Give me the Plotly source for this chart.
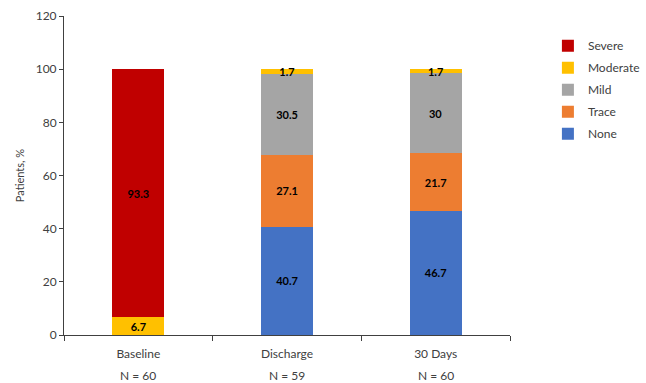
import plotly.graph_objects as go

# Time points and patient counts
timepoints = ["Baseline", "Discharge", "30 Days"]
n_patients = [60, 59, 60]

# Percent of patients per severity grade (stacked bottom to top)
none_pct = [0, 40.7, 46.7]
trace_pct = [0, 27.1, 21.7]
mild_pct = [0, 30.5, 30]
moderate_pct = [6.7, 1.7, 1.7]
severe_pct = [93.3, 0, 0]

series = [
    ("None", none_pct, "#4472C4"),
    ("Trace", trace_pct, "#ED7D31"),
    ("Mild", mild_pct, "#A5A5A5"),
    ("Moderate", moderate_pct, "#FFC000"),
    ("Severe", severe_pct, "#C00000"),
]

FONT = "Lato"
fig = go.Figure()
for i, (name, vals, color) in enumerate(series):
    labels = [("%g" % v) if v > 0 else "" for v in vals]
    fig.add_trace(go.Bar(
        name=name, x=timepoints, y=vals, marker_color=color,
        marker_line_width=0, text=labels, textposition="inside",
        insidetextanchor="middle", legendgroup=name,
        legendrank=len(series) - i,
        textfont=dict(family=FONT, size=11, color="#000000", weight="bold"),
        cliponaxis=False,
    ))

for cat, n in zip(timepoints, n_patients):
    fig.add_annotation(x=cat, y=0, yref="y", text=f"N = {n}", showarrow=False,
                       yshift=-40, font=dict(family=FONT, size=12, color="#404040"))

fig.update_layout(
    barmode="stack", bargap=0.65,
    width=646, height=383,
    margin=dict(l=64, r=136, t=16, b=48, autoexpand=False),
    paper_bgcolor="white", plot_bgcolor="white",
    font=dict(family=FONT, size=12, color="#404040"),
    uniformtext=dict(minsize=11, mode="show"),
    legend=dict(x=1.085, y=0.952, xanchor="left", yanchor="top",
                traceorder="grouped", tracegroupgap=3,
                font=dict(family=FONT, size=12, color="#404040"),
                itemwidth=30),
    xaxis=dict(showline=True, linecolor="#404040", linewidth=1,
               ticks="outside", tickson="boundaries", ticklen=5,
               tickcolor="#404040", showgrid=False, ticklabelstandoff=8),
    yaxis=dict(range=[0, 120], dtick=20, showline=True, linecolor="#404040",
               linewidth=1, ticks="outside", ticklen=4, tickcolor="#404040",
               showgrid=False, zeroline=False,
               title=dict(text="Patients, %", font=dict(family=FONT, size=11),
                          standoff=8),
               ),
)

fig.write_html("out.html")
